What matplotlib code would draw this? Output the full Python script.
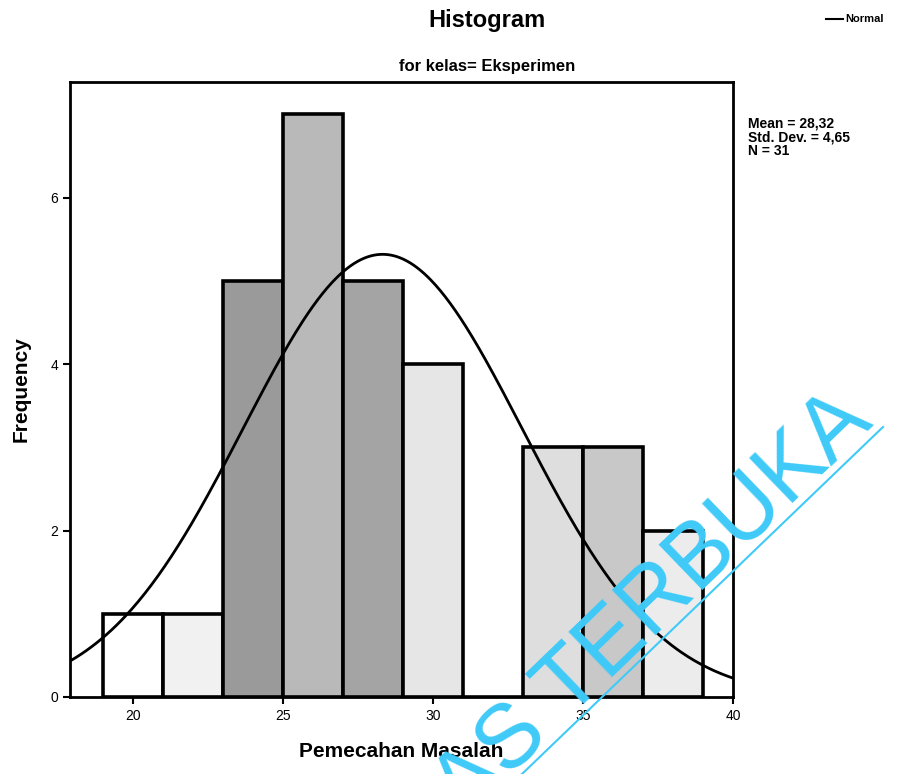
import numpy as np
import matplotlib
matplotlib.use("Agg")
import matplotlib.pyplot as plt
from matplotlib.lines import Line2D

# Histogram data: bin edges and counts
bin_edges = [19, 21, 23, 25, 27, 29, 31, 33, 35, 37, 39]
counts = [1, 1, 5, 7, 5, 4, 0, 3, 3, 2]

# Summary statistics
mean_val = 28.32
std_val = 4.65
n_obs = 31

x_ticks = [20, 25, 30, 35, 40]
y_ticks = [0, 2, 4, 6]

# Stipple-like shading per bar
bar_shades = ["#ffffff", "#f1f1f1", "#9a9a9a", "#b9b9b9", "#a4a4a4",
              "#e6e6e6", "#ffffff", "#dedede", "#c8c8c8", "#ececec"]

plt.rcParams["font.family"] = ["Liberation Sans", "DejaVu Sans"]

W, H = 899, 774
fig = plt.figure(figsize=(W / 100, H / 100), dpi=100)
ax = fig.add_axes([70 / W, 1 - 697 / H, (733 - 70) / W, (697 - 82) / H])

widths = np.diff(bin_edges)
ax.bar(bin_edges[:-1], counts, width=widths, align="edge",
       color=bar_shades, edgecolor="black", linewidth=2.6, zorder=2)

# Normal curve scaled to counts
xs = np.linspace(17.9, 40, 400)
bw = widths[0]
pdf = np.exp(-0.5 * ((xs - mean_val) / std_val) ** 2) / (std_val * np.sqrt(2 * np.pi))
ax.plot(xs, pdf * n_obs * bw, color="black", linewidth=2, zorder=3)

ax.set_xlim(17.9, 40)
ax.set_ylim(0, 7.39)
ax.set_xticks(x_ticks)
ax.set_yticks(y_ticks)
ax.tick_params(axis="both", direction="out", length=5, width=1.5,
               labelsize=10)
for spine in ax.spines.values():
    spine.set_linewidth(2)

ax.set_xlabel("Pemecahan Masalah", fontsize=15, fontweight="bold", labelpad=14)
ax.set_ylabel("Frequency", fontsize=15, fontweight="bold", labelpad=14)

fig.text(487 / W, 1 - 20 / H, "Histogram", ha="center", va="center",
         fontsize=17, fontweight="bold")
fig.text(487 / W, 1 - 67 / H, "for kelas= Eksperimen", ha="center",
         va="center", fontsize=12, fontweight="bold")

# Legend entry
fig.add_artist(Line2D([826 / W, 843 / W], [1 - 19 / H, 1 - 19 / H],
                      color="black", linewidth=1.5))
fig.text(845 / W, 1 - 19 / H, "Normal", ha="left", va="center",
         fontsize=8, fontweight="bold")

stats_lines = [
    "Mean = " + f"{mean_val:.2f}".replace(".", ","),
    "Std. Dev. = " + f"{std_val:.2f}".replace(".", ","),
    f"N = {n_obs}",
]
fig.text(748 / W, 1 - 117 / H, "\n".join(stats_lines),
         ha="left", va="top", fontsize=10, fontweight="bold", linespacing=0.95)

# Watermark
wm_color = "#3fcaf8"
fig.text(669 / W, 1 - 622 / H, "AS TERBUKA", ha="center", va="baseline",
         rotation=44, rotation_mode="anchor", fontsize=65, color=wm_color,
         zorder=10)
fig.add_artist(Line2D([522 / W, 883 / W], [1 - 774 / H, 1 - 427 / H],
                      color=wm_color, linewidth=1.5, zorder=10))

fig.savefig("out.png", dpi=100)
